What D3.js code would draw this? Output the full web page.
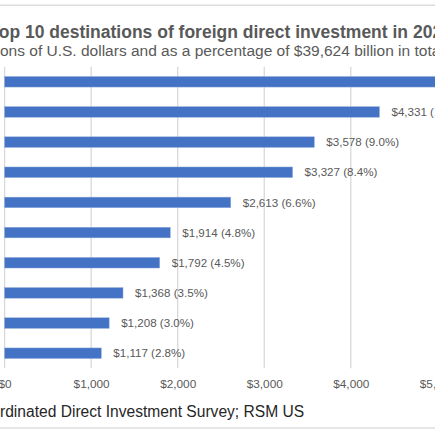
<!DOCTYPE html>
<html>
<head>
<meta charset="utf-8">
<script src="https://cdn.jsdelivr.net/npm/d3@7"></script>
<style>
  html, body { margin: 0; padding: 0; background: #ffffff; overflow: hidden; }
  svg { display: block; font-family: "Liberation Sans", Arial, sans-serif; }
</style>
</head>
<body>
<svg id="chart" width="435" height="435"></svg>
<script>
// ---- Data ----
const categories = ["United States", "Netherlands", "China", "United Kingdom", "Hong Kong SAR",
                    "Luxembourg", "Singapore", "Canada", "Switzerland", "Ireland"];
const values = [5251, 4331, 3578, 3327, 2613, 1914, 1792, 1368, 1208, 1117];
const shares = ["13.3%", "10.9%", "9.0%", "8.4%", "6.6%", "4.8%", "4.5%", "3.5%", "3.0%", "2.8%"];
const tickValues = [0, 1000, 2000, 3000, 4000, 5000];
const titleText = "Top 10 destinations of foreign direct investment in 2022";
const subtitleText = "In billions of U.S. dollars and as a percentage of $39,624 billion in total";
const sourceText = "Source: IMF Coordinated Direct Investment Survey; RSM US";

const svg = d3.select("#chart");
const W = 435, H = 435;

// frame lines
svg.append("line").attr("x1", 0).attr("x2", W).attr("y1", 5.2).attr("y2", 5.2)
  .attr("stroke", "#dcdcdc").attr("stroke-width", 1.6);
svg.append("line").attr("x1", 0).attr("x2", W).attr("y1", 428).attr("y2", 428)
  .attr("stroke", "#dcdcdc").attr("stroke-width", 1.6);

const x = d3.scaleLinear().domain([0, 5000]).range([4.6, 437.35]);
const y = d3.scaleBand().domain(categories).range([66.7, 368.3]).paddingInner(0.65).paddingOuter(0.325);

// measure helper
function measure(txt, size, weight) {
  const t = svg.append("text").attr("font-size", size).attr("font-weight", weight).text(txt);
  const w = t.node().getComputedTextLength();
  t.remove();
  return w;
}

// title
svg.append("text")
  .attr("x", -measure("T", 17.5, "bold"))
  .attr("y", 37.6)
  .attr("font-size", 17.5).attr("font-weight", "bold").attr("fill", "#595959")
  .text(titleText);

// subtitle
svg.append("text")
  .attr("x", -measure("In billi", 15.5, "normal"))
  .attr("y", 56)
  .attr("font-size", 15.5).attr("fill", "#595959")
  .text(subtitleText);

// gridlines
const grid = svg.append("g");
grid.selectAll("line").data(tickValues).join("line")
  .attr("x1", d => x(d)).attr("x2", d => x(d))
  .attr("y1", 66.7).attr("y2", 368.3)
  .attr("stroke", "#d9d9d9").attr("stroke-width", 1.3);

// x axis labels
const xAxis = d3.axisBottom(x).tickValues(tickValues)
  .tickFormat(d => "$" + d3.format(",")(d)).tickSize(0).tickPadding(0);
const ax = svg.append("g").attr("transform", "translate(0,380)").call(xAxis);
ax.select(".domain").remove();
ax.selectAll("text").attr("font-size", 11.8).attr("fill", "#595959")
  .attr("font-family", "'Liberation Sans', Arial, sans-serif").attr("dy", "0.71em");

// bars
svg.append("g").selectAll("rect").data(values).join("rect")
  .attr("x", x(0))
  .attr("y", (d, i) => y(categories[i]))
  .attr("width", d => x(d) - x(0))
  .attr("height", y.bandwidth())
  .attr("fill", "#4472c4")
  .attr("stroke", "#8eaadb").attr("stroke-width", 0.5);

// value labels
svg.append("g").selectAll("text").data(values).join("text")
  .attr("x", d => x(d) + 12)
  .attr("y", (d, i) => y(categories[i]) + y.bandwidth() / 2)
  .attr("dy", "0.36em")
  .attr("font-size", 11.6).attr("fill", "#595959")
  .text((d, i) => "$" + d3.format(",")(d) + " (" + shares[i] + ")");

// source
svg.append("text")
  .attr("x", -measure("Source: IMF Coo", 15.6, "normal"))
  .attr("y", 417.3)
  .attr("font-size", 15.6).attr("fill", "#262626")
  .text(sourceText);
</script>
</body>
</html>
